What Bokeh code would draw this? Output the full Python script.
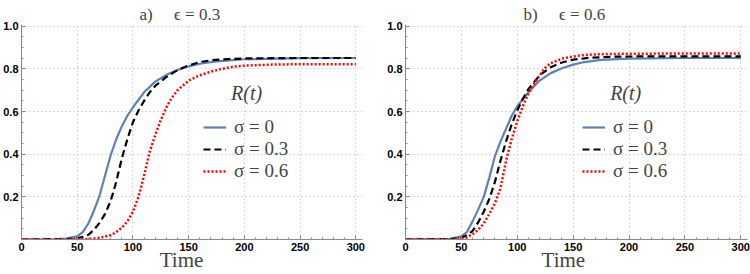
from bokeh.plotting import figure
from bokeh.models import Range1d, FixedTicker, Legend, LegendItem, Label, PrintfTickFormatter
from bokeh.layouts import row
from bokeh.embed import file_html
from bokeh.resources import INLINE

# ---------------- data ----------------
# Panel a) epsilon = 0.3
t_a_s0 = [0, 30, 40, 50, 55, 60, 65, 70, 75, 80, 85, 90, 95, 100, 110, 120, 130, 140, 150, 160, 175, 200, 250, 300]
r_a_s0 = [0, 0.001, 0.004, 0.015, 0.035, 0.075, 0.135, 0.205, 0.30, 0.395, 0.47, 0.53, 0.58, 0.62, 0.69, 0.74, 0.772, 0.795, 0.812, 0.824, 0.835, 0.845, 0.85, 0.851]
t_a_s3 = [0, 40, 50, 55, 60, 65, 70, 75, 80, 85, 90, 95, 100, 105, 110, 115, 120, 130, 140, 150, 160, 170, 185, 200, 250, 300]
r_a_s3 = [0, 0.002, 0.006, 0.012, 0.022, 0.045, 0.078, 0.12, 0.18, 0.27, 0.38, 0.47, 0.55, 0.605, 0.65, 0.69, 0.72, 0.762, 0.794, 0.816, 0.832, 0.84, 0.846, 0.849, 0.851, 0.851]
t_a_s6 = [0, 50, 60, 70, 80, 85, 90, 95, 100, 105, 110, 115, 120, 125, 130, 135, 140, 150, 160, 170, 180, 190, 200, 225, 250, 300]
r_a_s6 = [0, 0.001, 0.003, 0.008, 0.02, 0.035, 0.055, 0.085, 0.13, 0.2, 0.3, 0.41, 0.49, 0.56, 0.62, 0.665, 0.7, 0.745, 0.77, 0.787, 0.8, 0.81, 0.815, 0.82, 0.822, 0.822]

# Panel b) epsilon = 0.6
t_b_s0 = [0, 40, 50, 55, 60, 65, 70, 75, 80, 85, 90, 95, 100, 110, 120, 130, 140, 150, 160, 175, 200, 250, 300]
r_b_s0 = [0, 0.003, 0.015, 0.035, 0.085, 0.14, 0.2, 0.29, 0.39, 0.46, 0.52, 0.58, 0.625, 0.69, 0.745, 0.78, 0.803, 0.82, 0.832, 0.842, 0.848, 0.851, 0.851]
t_b_s3 = [0, 40, 50, 55, 60, 65, 70, 75, 80, 85, 90, 95, 100, 105, 110, 120, 130, 140, 150, 165, 185, 200, 250, 300]
r_b_s3 = [0, 0.002, 0.008, 0.02, 0.04, 0.08, 0.13, 0.19, 0.27, 0.37, 0.46, 0.54, 0.605, 0.66, 0.705, 0.77, 0.808, 0.83, 0.843, 0.852, 0.857, 0.858, 0.859, 0.859]
t_b_s6 = [0, 40, 50, 55, 60, 65, 70, 75, 80, 85, 90, 95, 100, 105, 110, 115, 120, 125, 130, 140, 150, 160, 175, 200, 250, 300]
r_b_s6 = [0, 0.001, 0.004, 0.01, 0.025, 0.045, 0.075, 0.12, 0.17, 0.24, 0.37, 0.47, 0.555, 0.625, 0.685, 0.73, 0.77, 0.805, 0.827, 0.848, 0.858, 0.865, 0.869, 0.871, 0.872, 0.872]

x_ticks = [0, 50, 100, 150, 200, 250, 300]
x_minor = [v for v in range(0, 301, 10)]
y_ticks = [0.2, 0.4, 0.6, 0.8, 1.0]
y_minor = [round(0.05 * i, 2) for i in range(0, 21)]
legend_labels = ["σ = 0", "σ = 0.3", "σ = 0.6"]
titles = ["a)\u00a0\u00a0\u00a0\u00a0\u00a0ϵ = 0.3", "b)\u00a0\u00a0\u00a0\u00a0\u00a0ϵ = 0.6"]
x_label = "Time"
curve_label = "R(t)"

BLUE = "#5E81B5"
RED = "#FF0000"
BLACK = "#000000"
SERIF = "Liberation Serif"


def make_panel(title, series, border_left, border_right, legend_x, label_x, label_pad):
    p = figure(width=375, height=274, output_backend="svg", toolbar_location=None,
               x_range=Range1d(0, 306), y_range=Range1d(0, 1.008),
               min_border_left=border_left, min_border_right=border_right,
               min_border_top=24, min_border_bottom=33)
    p.outline_line_color = None
    p.background_fill_color = "white"
    p.border_fill_color = "white"

    p.title.text = title
    p.title.align = "left"
    p.title.offset = 118
    p.title.text_font = SERIF
    p.title.text_font_size = "17px"
    p.title.text_font_style = "normal"
    p.title.standoff = 2

    p.xaxis.ticker = FixedTicker(ticks=x_ticks, minor_ticks=x_minor)
    p.yaxis.ticker = FixedTicker(ticks=y_ticks, minor_ticks=y_minor)
    p.yaxis.formatter = PrintfTickFormatter(format="%.1f")
    for ax in (p.xaxis, p.yaxis):
        ax.axis_line_color = "#8a8a8a"
        ax.axis_line_width = 1
        ax.major_tick_line_color = "#8a8a8a"
        ax.minor_tick_line_color = "#8a8a8a"
        ax.major_tick_in = 4
        ax.major_tick_out = 0
        ax.minor_tick_in = 2
        ax.minor_tick_out = 0
        ax.major_label_text_font = "Liberation Sans"
        ax.major_label_text_font_style = "bold"
        ax.major_label_text_font_size = "11px"
        ax.major_label_text_color = "black"
    p.yaxis.major_label_standoff = 3
    p.xaxis.major_label_standoff = 3
    # "Time" axis title (trailing no-break spaces shift its centre as in the reference)
    p.xaxis.axis_label = x_label + "\u00a0" * label_pad
    p.xaxis.axis_label_text_font = SERIF
    p.xaxis.axis_label_text_font_style = "normal"
    p.xaxis.axis_label_text_font_size = "21px"
    p.xaxis.axis_label_standoff = -6

    for g in (p.xgrid, p.ygrid):
        g.grid_line_color = "#b4b4b4"
        g.grid_line_dash = "1 3"
        g.grid_line_width = 1
    p.xgrid.ticker = FixedTicker(ticks=x_ticks[1:])

    styles = [
        dict(line_color=BLUE, line_width=2.2),
        dict(line_color=BLACK, line_width=2.2, line_dash="7 4"),
        dict(line_color=RED, line_width=2.5, line_dash="2 2"),
    ]
    items = []
    for (tt, rr), st, lab in zip(series, styles, legend_labels):
        r = p.line(tt, rr, **st)
        items.append(LegendItem(label=lab, renderers=[r]))

    legend = Legend(items=items, location=(legend_x, 57),
                    background_fill_alpha=0, border_line_alpha=0,
                    padding=0, margin=0, spacing=0,
                    label_height=20, glyph_height=20, glyph_width=23,
                    label_standoff=8,
                    label_text_font=SERIF, label_text_font_size="19px",
                    label_text_baseline="middle")
    p.add_layout(legend)

    p.add_layout(Label(x=label_x, y=0.687, text=curve_label, text_align="center",
                       text_baseline="middle", text_font=SERIF,
                       text_font_style="italic", text_font_size="20px"))
    return p


pa = make_panel(titles[0], [(t_a_s0, r_a_s0), (t_a_s3, r_a_s3), (t_a_s6, r_a_s6)],
                20, 13, 182, 202, 4)
pb = make_panel(titles[1], [(t_b_s0, r_b_s0), (t_b_s3, r_b_s3), (t_b_s6, r_b_s6)],
                30, 3, 177, 197, 5)

layout = row(pa, pb, spacing=0)
open("out.html", "w").write(file_html(layout, INLINE))
